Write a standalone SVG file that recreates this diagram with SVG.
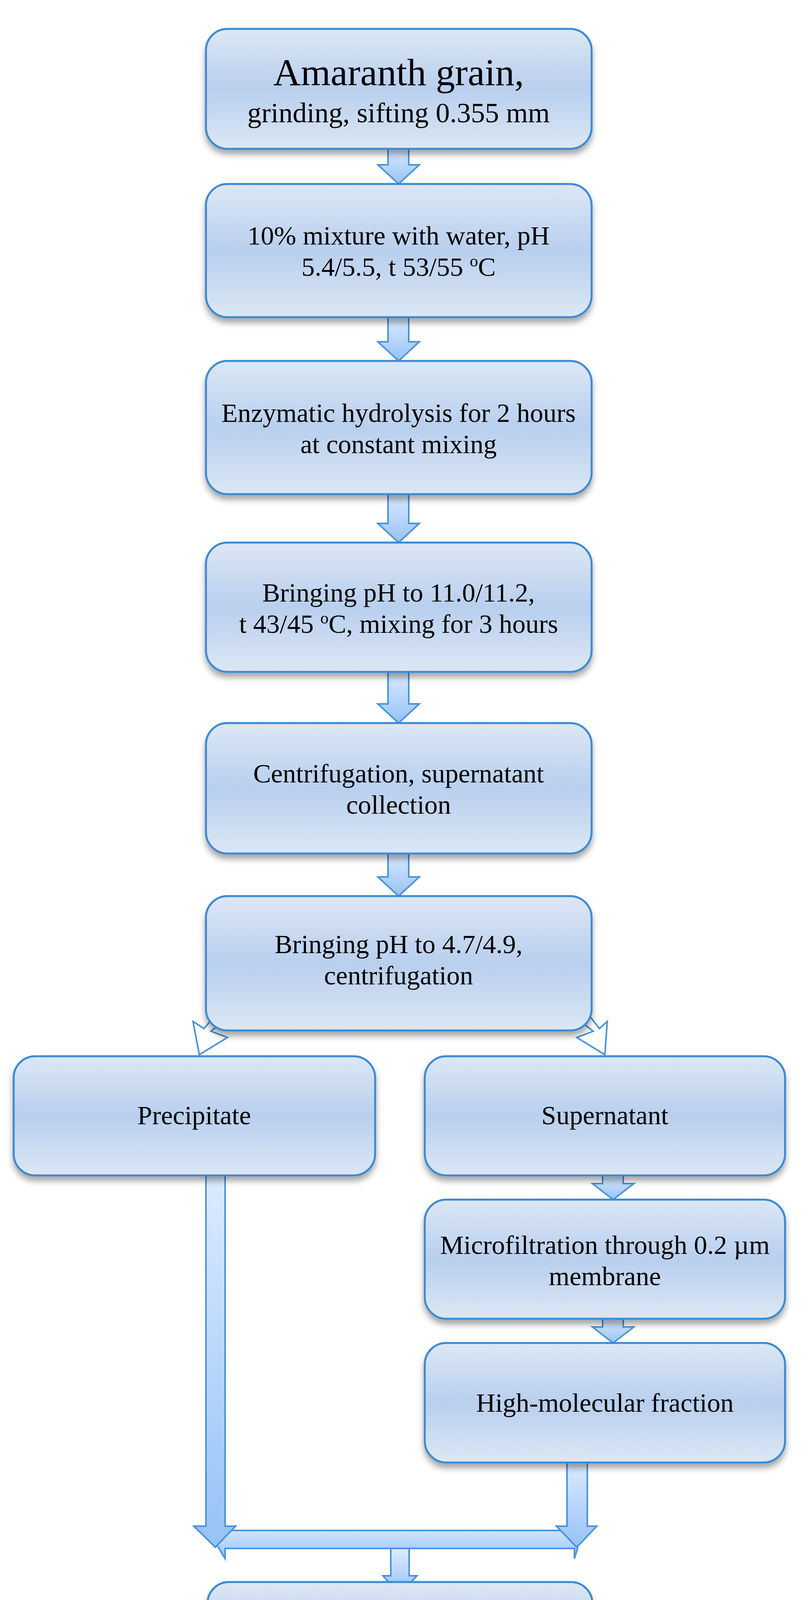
<svg xmlns="http://www.w3.org/2000/svg" width="2078" height="4862" viewBox="0 0 2078 4862">
<defs>
<linearGradient id="gb" x1="0" y1="0" x2="0" y2="1"><stop offset="0" stop-color="#dde7f5"/><stop offset="0.5" stop-color="#b8cfee"/><stop offset="1" stop-color="#dce7f4"/></linearGradient>
<linearGradient id="gr" x1="0" y1="0" x2="0" y2="1"><stop offset="0" stop-color="#ffe3e3"/><stop offset="1" stop-color="#ffa6a6"/></linearGradient>
<linearGradient id="ga" x1="0" y1="0" x2="0" y2="1"><stop offset="0" stop-color="#dcebff"/><stop offset="1" stop-color="#95c2f7"/></linearGradient>
<filter id="sh" x="-10%" y="-10%" width="120%" height="130%"><feDropShadow dx="0" dy="12" stdDeviation="8" flood-color="#000" flood-opacity="0.35"/></filter>
</defs>
<style>
.b{fill:url(#gb);stroke:#3b8ad2;stroke-width:5;filter:url(#sh)}
.r{fill:url(#gr);stroke:#e05555;stroke-width:5;filter:url(#sh)}
.a{fill:url(#ga);stroke:#4a92da;stroke-width:4}
.w{fill:#fff;stroke:#4a92da;stroke-width:4}
text{font-family:"Liberation Serif","Times New Roman",serif;fill:#000;text-anchor:middle;font-size:68px}
.sup{font-size:42px}
</style>
<g id="connectors">
<path class="a" d="M993,381 H1046 V422 H1073 L1020,471 L967,422 H993 Z"/>
<path class="a" d="M993,812 H1046 V875 H1073 L1020,924 L967,875 H993 Z"/>
<path class="a" d="M993,1265 H1046 V1340 H1073 L1020,1389 L967,1340 H993 Z"/>
<path class="a" d="M993,1720 H1046 V1802 H1073 L1020,1851 L967,1802 H993 Z"/>
<path class="a" d="M993,2185 H1046 V2245 H1073 L1020,2294 L967,2245 H993 Z"/>
<path class="w" d="M568,2618 L540,2640 L582,2656 L510,2700 L494,2615 L522,2633 L550,2600 Z"/>
<path class="w" d="M1490,2618 L1518,2640 L1476,2656 L1548,2700 L1554,2615 L1534,2633 L1508,2600 Z"/>
<path class="a" d="M1542,3009 H1595 V3030 H1622 L1569,3071 L1516,3030 H1542 Z"/>
<path class="a" d="M1542,3376 H1595 V3397 H1622 L1569,3438 L1516,3397 H1542 Z"/>
<path class="a" d="M576,3918 H1452 L1475,3905 L1478,3964 L1470,3990 V3964 H576 V3990 L552,3950 Z"/>
<path class="a" d="M527,3009 H576 V3907 H603 L551,3961 L496,3907 H527 Z"/>
<path class="a" d="M1451,3744 H1503 V3907 H1527 L1476,3961 L1424,3907 H1451 Z"/>
<path class="a" d="M1000,3964 H1047 V4034 H1067 L1023,4081 L980,4034 H1000 Z"/>
<path class="a" d="M1007,4331 H1060 V4388 H1087 L1033,4440 L980,4388 H1007 Z"/>
</g>
<g id="n1"><rect class="b" x="527" y="74" width="987" height="307" rx="55"/><text x="1020" y="218" style="font-size:98px">Amaranth grain,</text><text x="1020" y="313" style="font-size:72px">grinding, sifting 0.355 mm</text></g>
<g id="n2"><rect class="b" x="527" y="471" width="987" height="341" rx="55"/><text x="1020" y="626">10% mixture with water, pH</text><text x="1020" y="706">5.4/5.5, t 53/55 <tspan class="sup" dy="-24">o</tspan><tspan dy="24">C</tspan></text></g>
<g id="n3"><rect class="b" x="527" y="924" width="987" height="341" rx="55"/><text x="1020" y="1080">Enzymatic hydrolysis for 2 hours</text><text x="1020" y="1160">at constant mixing</text></g>
<g id="n4"><rect class="b" x="527" y="1389" width="987" height="331" rx="55"/><text x="1020" y="1540">Bringing pH to 11.0/11.2,</text><text x="1020" y="1620">t 43/45 <tspan class="sup" dy="-24">o</tspan><tspan dy="24">C, mixing for 3 hours</tspan></text></g>
<g id="n5"><rect class="b" x="527" y="1851" width="987" height="334" rx="55"/><text x="1020" y="2003">Centrifugation, supernatant</text><text x="1020" y="2083">collection</text></g>
<g id="n6"><rect class="b" x="527" y="2294" width="987" height="344" rx="55"/><text x="1020" y="2440">Bringing pH to 4.7/4.9,</text><text x="1020" y="2520">centrifugation</text></g>
<g id="n7"><rect class="b" x="35" y="2704" width="925" height="305" rx="55"/><text x="497" y="2878">Precipitate</text></g>
<g id="n8"><rect class="b" x="1087" y="2704" width="922" height="305" rx="55"/><text x="1548" y="2878">Supernatant</text></g>
<g id="n9"><rect class="b" x="1087" y="3071" width="922" height="305" rx="55"/><text x="1548" y="3210">Microfiltration through 0.2 µm</text><text x="1548" y="3290">membrane</text></g>
<g id="n10"><rect class="b" x="1087" y="3438" width="922" height="306" rx="55"/><text x="1548" y="3614">High-molecular fraction</text></g>
<g id="n11"><rect class="b" x="531" y="4050" width="985" height="281" rx="55"/><text x="1023" y="4212">Freeze-drying</text></g>
<g id="n12"><rect class="r" x="531" y="4452" width="985" height="331" rx="55"/><text x="1023" y="4598" style="font-size:100px">Amaranth protein</text><text x="1023" y="4712" style="font-size:100px">concentrate</text></g>
</svg>
